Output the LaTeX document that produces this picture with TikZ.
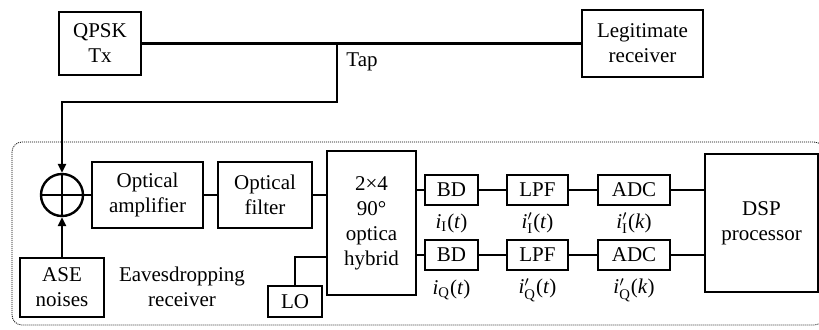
\documentclass[tikz,border=0pt]{standalone}
\usepackage{amsmath}
\usepackage{fontspec}
\setmainfont{Liberation Serif}
\usetikzlibrary{arrows.meta}

\begin{document}
\begin{tikzpicture}[x=0.5pt, y=-0.5pt,
    blk/.style={draw, line width=1.2pt, align=center, inner sep=0pt, font=\fontsize{10.5}{12.5}\selectfont},
    ln/.style={line width=1.2pt},
    arr/.style={line width=1.2pt, -{Triangle[length=4.5pt, width=4pt]}},
    lbl/.style={font=\fontsize{10.5}{12.5}\selectfont, align=center, inner sep=0pt}
]
\useasboundingbox (0,0) rectangle (819,329);
% dotted frame of the eavesdropper
\draw[line width=0.4pt, dash pattern=on 0.5pt off 0.5pt, rounded corners=5pt] (12,142) rectangle (824,325);

\node[blk, minimum width=41pt, minimum height=31.5pt] (tx) at (100,43.5) {QPSK\\Tx};
\node[blk, minimum width=60.5pt, minimum height=33.5pt] (legit) at (642.5,43.5) {Legitimate\\receiver};
\coordinate (tap) at (337,43.5);
\node[lbl] (taplbl) at (362,62) {Tap};

\node[draw, circle, line width=1.2pt, minimum size=21pt, inner sep=0pt] (sum) at (62,195) {};
\draw[ln] (sum.north) -- (sum.south);
\draw[ln] (sum.west) -- (sum.east);
\node[blk, minimum width=42pt, minimum height=29.5pt] (ase) at (62,287.5) {ASE\\noises};
\node[lbl] (eav) at (182,287) {Eavesdropping\\receiver};
\node[blk, minimum width=55.5pt, minimum height=33pt] (amp) at (147.5,195) {Optical\\amplifier};
\node[blk, minimum width=47pt, minimum height=33pt] (filt) at (265,195) {Optical\\filter};
\node[blk, minimum width=44.5pt, minimum height=72pt] (hyb) at (371.5,223) {2×4\\90°\\optica\\hybrid};
\node[blk, minimum width=27pt, minimum height=15.5pt] (lo) at (295,301.5) {LO};

\node[blk, minimum width=26.5pt, minimum height=15pt] (bdi) at (451.5,190) {BD};
\node[blk, minimum width=30.5pt, minimum height=15pt] (lpfi) at (537.5,190) {LPF};
\node[blk, minimum width=36pt, minimum height=15pt] (adci) at (634,190) {ADC};
\node[blk, minimum width=26.5pt, minimum height=15pt] (bdq) at (451.5,255) {BD};
\node[blk, minimum width=30.5pt, minimum height=15pt] (lpfq) at (537.5,255) {LPF};
\node[blk, minimum width=36pt, minimum height=15pt] (adcq) at (634,255) {ADC};
\node[blk, minimum width=56.5pt, minimum height=69pt] (dsp) at (761.5,223) {DSP\\processor};

\node[lbl] (li1) at (451.5,223) {\textit{i}$_{\text{I}}$(\textit{t})};
\node[lbl] (li2) at (537.5,223) {\textit{i}$'_{\text{I}}$(\textit{t})};
\node[lbl] (li3) at (634,223) {\textit{i}$'_{\text{I}}$(\textit{k})};
\node[lbl] (lq1) at (451.5,290) {\textit{i}$_{\text{Q}}$(\textit{t})};
\node[lbl] (lq2) at (537.5,290) {\textit{i}$'_{\text{Q}}$(\textit{t})};
\node[lbl] (lq3) at (634,290) {\textit{i}$'_{\text{Q}}$(\textit{k})};

\draw[ln] (tx) -- (legit);
\draw[arr] (tap) -- (337,102) -| (sum.north);
\draw[arr] (ase) -- (sum.south);
\draw[ln] (sum) -- (amp);
\draw[ln] (amp) -- (filt);
\draw[ln] (filt.east) -- (filt.east -| hyb.west);
\draw[ln] (lo.north) |- ([yshift=-17pt]hyb.west);
\draw[ln] (bdi.west -| hyb.east) -- (bdi.west);
\draw[ln] (bdq.west -| hyb.east) -- (bdq.west);
\draw[ln] (bdi) -- (lpfi);
\draw[ln] (lpfi) -- (adci);
\draw[ln] (adci.east) -- (adci.east -| dsp.west);
\draw[ln] (bdq) -- (lpfq);
\draw[ln] (lpfq) -- (adcq);
\draw[ln] (adcq.east) -- (adcq.east -| dsp.west);
\end{tikzpicture}
\end{document}
